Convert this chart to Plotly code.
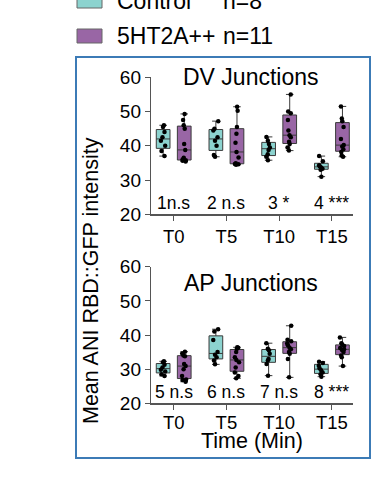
import plotly.graph_objects as go

categories = ["T0", "T5", "T10", "T15"]

dv_control = [
    [37.0, 38.5, 40.0, 41.5, 42.5, 44.0, 45.5, 46.0],
    [36.8, 37.3, 40.0, 41.5, 42.5, 44.5, 45.0, 47.2],
    [35.8, 36.8, 37.5, 38.8, 39.5, 40.5, 41.5, 42.6],
    [31.0, 33.0, 33.3, 33.7, 34.0, 34.3, 35.5, 37.0],
]
dv_5ht = [
    [35.4, 35.6, 35.8, 36.0, 36.5, 38.8, 40.5, 45.0, 46.0, 47.5, 49.3],
    [34.5, 34.6, 34.7, 34.9, 36.6, 38.2, 40.9, 43.5, 45.5, 50.2, 51.4],
    [38.6, 39.5, 40.5, 41.2, 42.5, 43.1, 44.5, 47.5, 49.5, 50.0, 55.0],
    [36.8, 37.2, 38.2, 39.0, 39.8, 40.2, 42.0, 45.5, 47.2, 48.0, 51.5],
]
ap_control = [
    [28.0, 28.5, 29.3, 29.8, 30.5, 31.3, 32.0, 32.3],
    [31.4, 32.5, 33.5, 34.2, 35.0, 38.5, 41.0, 41.7],
    [28.1, 31.5, 32.5, 33.0, 34.5, 35.5, 36.0, 37.6],
    [27.8, 28.5, 29.0, 29.7, 30.3, 31.0, 31.8, 32.2],
]
ap_5ht = [
    [26.3, 26.8, 27.0, 28.0, 30.0, 30.9, 31.5, 33.8, 34.0, 34.6, 35.1],
    [27.3, 28.0, 29.0, 30.5, 32.0, 32.7, 33.5, 35.0, 36.0, 36.3, 36.4],
    [27.6, 33.0, 34.5, 35.0, 35.8, 36.3, 37.0, 37.5, 38.2, 38.6, 42.7],
    [30.9, 33.5, 34.0, 35.0, 35.5, 35.8, 36.2, 36.8, 37.2, 37.6, 39.3],
]
dv_stats = ["1n.s", "2 n.s", "3 *", "4 ***"]
ap_stats = ["5 n.s", "6 n.s", "7 n.s", "8 ***"]
panel_titles = ["DV Junctions", "AP Junctions"]
group_labels = ["Control", "5HT2A++"]
group_n = ["n=8", "n=11"]

FONT = "Liberation Sans, Arial, sans-serif"
C_CTRL = "#8cd3cf"
C_5HT = "#9966a5"
BOXLINE = "#3a3a3a"

W, H = 384, 478

fig = go.Figure()


def add_group(data, offset, color, xa, ya):
    xs, ys = [], []
    for i, vals in enumerate(data):
        xs += [i + offset] * len(vals)
        ys += vals
    # box with whiskers to min/max
    fig.add_trace(go.Box(
        x=xs, y=ys, boxpoints=False, width=0.26, whiskerwidth=0.55,
        fillcolor=color, line=dict(color=BOXLINE, width=1),
        quartilemethod="linear", xaxis=xa, yaxis=ya, showlegend=False,
    ))
    # jittered points
    fig.add_trace(go.Box(
        x=xs, y=ys, boxpoints="all", jitter=0.4, pointpos=0, width=0.26,
        fillcolor="rgba(0,0,0,0)", line=dict(color="rgba(0,0,0,0)", width=0),
        marker=dict(color="black", size=4.5), xaxis=xa, yaxis=ya,
        showlegend=False,
    ))


add_group(dv_control, -0.2, C_CTRL, "x", "y")
add_group(dv_5ht, 0.2, C_5HT, "x", "y")
add_group(ap_control, -0.2, C_CTRL, "x2", "y2")
add_group(ap_5ht, 0.2, C_5HT, "x2", "y2")


def px(x):
    return x / W


def py(y):
    return 1 - y / H


xdom = [px(151), px(353)]
ydom_top = [py(214.3), py(77.3)]
ydom_bot = [py(403.3), py(266.7)]

axcommon = dict(showline=True, linecolor="#555555", linewidth=1.2,
                ticks="outside", ticklen=5, tickcolor="#555555",
                showgrid=False, zeroline=False, automargin=False)
xcommon = dict(axcommon, range=[-0.43, 3.40], tickvals=[0, 1, 2, 3],
               ticktext=categories,
               tickfont=dict(family=FONT, size=18.5, color="black"))
ycommon = dict(axcommon, range=[20, 60], tickvals=[20, 30, 40, 50, 60],
               tickfont=dict(family=FONT, size=19, color="black"))

fig.update_layout(
    width=W, height=H, autosize=False,
    margin=dict(l=0, r=0, t=0, b=0, pad=0),
    paper_bgcolor="white", plot_bgcolor="white",
    font=dict(family=FONT, color="black"),
    xaxis=dict(xcommon, domain=xdom, anchor="y"),
    yaxis=dict(ycommon, domain=ydom_top, anchor="x"),
    xaxis2=dict(xcommon, domain=xdom, anchor="y2", ticklabelstandoff=-3),
    yaxis2=dict(ycommon, domain=ydom_bot, anchor="x2"),
)


def ann(x, y, text, size, xref="paper", yref="paper", xanchor="center", **kw):
    return dict(x=x, y=y, xref=xref, yref=yref, text=text, showarrow=False,
                xanchor=xanchor, yanchor="middle",
                font=dict(size=size, family=FONT, color="black"), **kw)


annotations = []
for i, t in enumerate(dv_stats):
    annotations.append(ann(i, 23.3, t, 17.5, xref="x", yref="y"))
for i, t in enumerate(ap_stats):
    annotations.append(ann(i, 23.3, t, 17.5, xref="x2", yref="y2"))

annotations.append(ann(px(251), py(77), panel_titles[0], 23))
annotations.append(ann(px(251), py(283), panel_titles[1], 23))
annotations.append(ann(px(252), py(441), "Time (Min)", 21.5))
annotations.append(ann(px(91), py(281), "Mean ANI RBD::GFP intensity", 21.5,
                       textangle=-90))

# legend
shapes = []
leg_rows = [(1, C_CTRL), (36, C_5HT)]
for (yc, col), lab, n in zip(leg_rows, group_labels, group_n):
    shapes.append(dict(type="rect", xref="paper", yref="paper",
                       x0=px(77), x1=px(102),
                       y0=py(yc + 7), y1=py(yc - 7),
                       fillcolor=col, line=dict(color="#666666", width=1)))
    annotations.append(ann(px(115), py(yc), lab, 23, xanchor="left"))
    annotations.append(ann(px(221), py(yc), n, 23, xanchor="left"))

# blue frame
shapes.append(dict(type="rect", xref="paper", yref="paper",
                   x0=px(76), x1=px(370), y0=py(458), y1=py(57),
                   line=dict(color="#3c7bb6", width=2),
                   fillcolor="rgba(0,0,0,0)"))

fig.update_layout(annotations=annotations, shapes=shapes)
fig.write_html(
    "out.html",
    config={"displayModeBar": False, "staticPlot": True},
    post_script=("document.body.style.margin='0';"
                 "document.body.style.overflow='hidden';"
                 "document.documentElement.style.overflow='hidden';"),
)
